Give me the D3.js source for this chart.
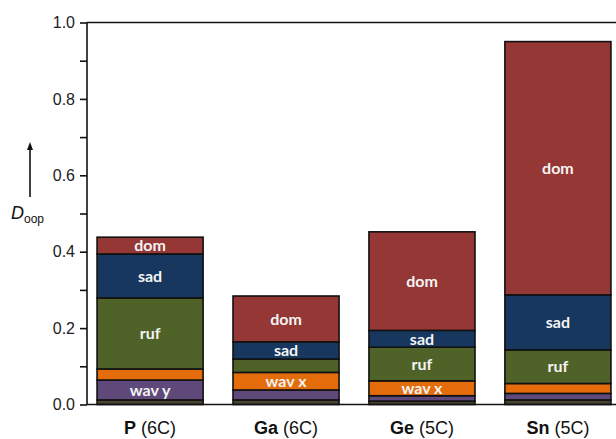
<!DOCTYPE html>
<html>
<head>
<meta charset="utf-8">
<script src="https://cdn.jsdelivr.net/npm/d3@7"></script>
<style>
  html, body { margin: 0; padding: 0; background: #fff; }
  svg { display: block; }
</style>
</head>
<body>
<svg id="chart" width="616" height="439"></svg>
<script>
// Out-of-plane distortion (D_oop) decomposed into normal modes, per porphyrin
const categories = ["P", "Ga", "Ge", "Sn"];
const coordination = ["(6C)", "(6C)", "(5C)", "(5C)"];
const modes = ["pro", "wavy", "wavx", "ruf", "sad", "dom"];
const modeNames = { pro: "pro", wavy: "wav y", wavx: "wav x", ruf: "ruf", sad: "sad", dom: "dom" };

const pro  = [0.012, 0.012, 0.009, 0.012];
const wavy = [0.052, 0.026, 0.014, 0.017];
const wavx = [0.029, 0.046, 0.039, 0.026];
const ruf  = [0.186, 0.035, 0.088, 0.088];
const sad  = [0.115, 0.045, 0.044, 0.144];
const dom  = [0.044, 0.120, 0.258, 0.663];

// which segments carry an inline label, per bar
const labelled = [
  ["dom", "sad", "ruf", "wavy"],
  ["dom", "sad", "wavx"],
  ["dom", "sad", "ruf", "wavx"],
  ["dom", "sad", "ruf"]
];

const yTicks = [0, 0.2, 0.4, 0.6, 0.8, 1.0];
const yMinorTicks = [0.1, 0.3, 0.5, 0.7, 0.9];

const colors = {
  pro: "#4a4530",
  wavy: "#5f497a",
  wavx: "#e46c0a",
  ruf: "#4f6228",
  sad: "#17375e",
  dom: "#953735"
};

const table = categories.map((c, i) => ({
  cat: c, pro: pro[i], wavy: wavy[i], wavx: wavx[i], ruf: ruf[i], sad: sad[i], dom: dom[i]
}));

const svg = d3.select("#chart");
const plotLeft = 87, plotRight = 621, plotTop = 22.5, plotBottom = 404.5;

const x = d3.scaleBand().domain(categories).range([plotLeft, plotRight])
  .paddingInner(0.22).paddingOuter(0.074);
const y = d3.scaleLinear().domain([0, 1]).range([plotBottom, plotTop]);

const series = d3.stack().keys(modes)(table);

// stacked bars
const g = svg.append("g");
series.forEach(s => {
  g.selectAll(null).data(s).enter().append("rect")
    .attr("x", d => x(d.data.cat))
    .attr("width", x.bandwidth())
    .attr("y", d => y(d[1]))
    .attr("height", d => y(d[0]) - y(d[1]))
    .attr("fill", colors[s.key])
    .attr("stroke", "#111")
    .attr("stroke-width", 1.6);
});

// segment labels
series.forEach(s => {
  g.selectAll(null).data(s.filter((d, i) => labelled[i].includes(s.key))).enter().append("text")
    .attr("x", d => x(d.data.cat) + x.bandwidth() / 2)
    .attr("y", d => (y(d[0]) + y(d[1])) / 2)
    .attr("dy", "0.36em")
    .attr("text-anchor", "middle")
    .attr("fill", "#f4f4f4")
    .attr("font-family", "Lato, 'Open Sans', sans-serif")
    .attr("font-weight", "bold")
    .attr("font-size", 16)
    .text(modeNames[s.key]);
});

// y axis: major labelled ticks plus unlabelled minor ticks
const yAxis = d3.axisLeft(y).tickValues(yTicks).tickFormat(d3.format(".1f"))
  .tickSize(7).tickPadding(5);
const ya = svg.append("g").attr("transform", `translate(${plotLeft},0)`).call(yAxis);
ya.select(".domain").remove();
ya.selectAll(".tick line").attr("stroke", "#111").attr("stroke-width", 1.6);
ya.selectAll(".tick text")
  .attr("font-family", "'Liberation Sans', Arial, sans-serif")
  .attr("font-size", 16).attr("fill", "#222");

const yMinor = d3.axisLeft(y).tickValues(yMinorTicks).tickSize(7).tickFormat("");
const ym = svg.append("g").attr("transform", `translate(${plotLeft},0)`).call(yMinor);
ym.select(".domain").remove();
ym.selectAll(".tick line").attr("stroke", "#111").attr("stroke-width", 1.6);

// frame: left, top and bottom edges of the plot area
const frame = svg.append("g").attr("stroke", "#111").attr("stroke-width", 1.6).attr("fill", "none");
frame.append("line").attr("x1", plotLeft).attr("x2", plotLeft).attr("y1", y(1)).attr("y2", y(0));
frame.append("line").attr("x1", plotLeft).attr("x2", plotRight).attr("y1", y(1)).attr("y2", y(1));
frame.append("line").attr("x1", plotLeft).attr("x2", plotRight).attr("y1", y(0)).attr("y2", y(0));

// category labels
const xl = svg.append("g");
categories.forEach((c, i) => {
  const t = xl.append("text")
    .attr("x", x(c) + x.bandwidth() / 2)
    .attr("y", 434)
    .attr("text-anchor", "middle")
    .attr("font-family", "'Liberation Sans', Arial, sans-serif")
    .attr("font-size", 18)
    .attr("fill", "#111");
  t.append("tspan").attr("font-weight", "bold").text(c);
  t.append("tspan").text(" " + coordination[i]);
});

// y-axis title: upward arrow and D_oop
const ax = 30;
svg.append("line").attr("x1", ax).attr("x2", ax).attr("y1", 197).attr("y2", 148)
  .attr("stroke", "#111").attr("stroke-width", 1.6);
svg.append("path").attr("d", `M${ax - 3},${150} L${ax},${142} L${ax + 3},${150} Z`).attr("fill", "#111");
const title = svg.append("text").attr("x", 11).attr("y", 219)
  .attr("font-family", "'Liberation Sans', Arial, sans-serif").attr("fill", "#111");
title.append("tspan").attr("font-style", "italic").attr("font-size", 18).text("D");
title.append("tspan").attr("font-size", 12).attr("dy", 4).text("oop");
</script>
</body>
</html>
